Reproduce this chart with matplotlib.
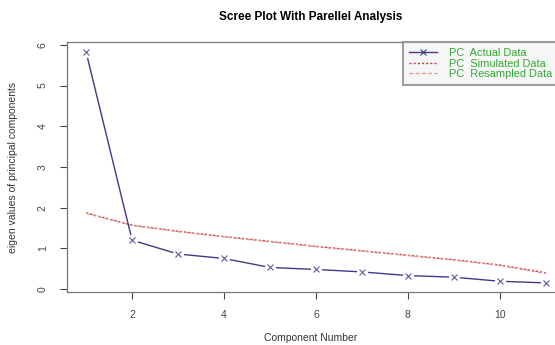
import numpy as np
import matplotlib.pyplot as plt
from matplotlib.lines import Line2D

plt.rcParams['font.family'] = ['Liberation Sans', 'DejaVu Sans']

components = [1, 2, 3, 4, 5, 6, 7, 8, 9, 10, 11]
actual = [5.82, 1.20, 0.86, 0.75, 0.53, 0.48, 0.42, 0.33, 0.29, 0.19, 0.15]
simulated = [1.87, 1.57, 1.42, 1.29, 1.17, 1.05, 0.94, 0.83, 0.72, 0.59, 0.40]
resampled = [1.86, 1.56, 1.41, 1.28, 1.16, 1.04, 0.93, 0.82, 0.71, 0.58, 0.38]

fig = plt.figure(figsize=(5.55, 3.45), dpi=100)
ax = fig.add_axes([0.121, 0.1536, 0.879, 0.7244])

# gaps around the points like R's type="b"
ax.plot(components, actual, color='#3c3c8c', lw=1.0, zorder=2)
ax.plot(components, actual, 'o', ms=7, color='white', zorder=3)
ax.plot(components, actual, 'x', ms=4.5, mew=0.8, color='#5a5aa0', linestyle='none', zorder=4)
ax.plot(components, simulated, color='#c04040', lw=1.0, linestyle=(0, (1.5, 1.5)), zorder=1)
ax.plot(components, resampled, color='#e89090', lw=0.9, linestyle=(0, (3, 2)), zorder=1)

ax.set_xlim(0.587, 11.2)
ax.set_ylim(-0.074, 6.07)
ax.set_xticks([2, 4, 6, 8, 10])
ax.set_yticks([0, 1, 2, 3, 4, 5, 6])
ax.tick_params(axis='both', labelsize=7.5, colors='#444444', length=5, width=0.8)
ax.tick_params(axis='x', pad=8)
ax.tick_params(axis='y', pad=9)
for lab in ax.get_yticklabels():
    lab.set_rotation(90)
    lab.set_va('center')
ax.spines['right'].set_visible(False)
for s in ['left', 'bottom', 'top']:
    ax.spines[s].set_color('#777777')
    ax.spines[s].set_linewidth(0.9)

ax.set_xlabel('Component Number', fontsize=7.5, color='#333333', labelpad=9)
ax.set_ylabel('eigen values of principal components', fontsize=7.5, color='#333333', labelpad=14)
ax.set_title('Scree Plot With Parellel Analysis', fontsize=8.5, fontweight='bold', pad=16)

handles = [
    Line2D([], [], color='#3c3c8c', lw=1.0, marker='x', ms=4.5, mew=0.8),
    Line2D([], [], color='#c04040', lw=1.0, linestyle=(0, (1.5, 1.5))),
    Line2D([], [], color='#e89090', lw=0.9, linestyle=(0, (3, 2))),
]
leg = ax.legend(handles, ['PC  Actual Data', 'PC  Simulated Data', 'PC  Resampled Data'],
                loc='upper left', bbox_to_anchor=(0.688, 1.0), fontsize=7.9,
                frameon=True, fancybox=False, borderpad=0.55, labelspacing=0.05,
                handlelength=2.6, handletextpad=1.1, borderaxespad=0)
for t in leg.get_texts():
    t.set_color('#33aa33')
leg.get_frame().set_edgecolor('#888888')
leg.get_frame().set_linewidth(1.5)
leg.get_frame().set_facecolor('#f4f4f4')

fig.savefig('out.png', dpi=100)
